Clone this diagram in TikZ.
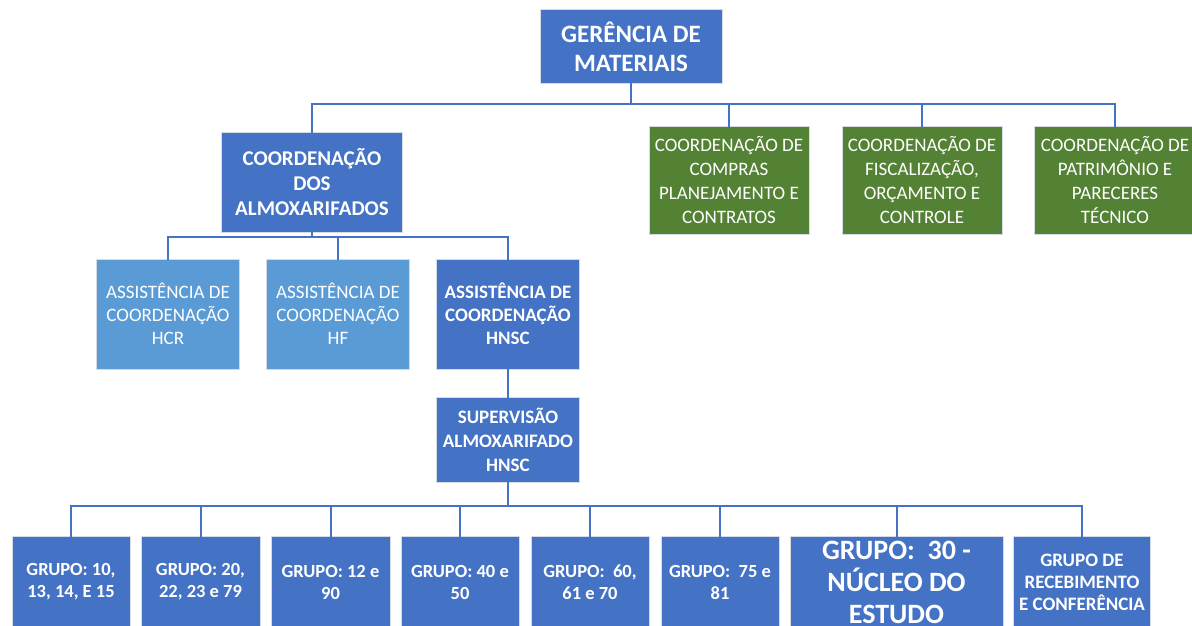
\documentclass[tikz,border=0pt]{standalone}
\usepackage{fontspec}
\setmainfont{Carlito}
\usepackage{xcolor}
\usetikzlibrary{positioning}
\definecolor{orgblue}{HTML}{4472C4}
\definecolor{orglight}{HTML}{5B9BD5}
\definecolor{orggreen}{HTML}{548235}
\definecolor{orgedge}{HTML}{D6DCE5}

\begin{document}
\begin{tikzpicture}[x=1pt, y=-1pt,
  every node/.style={inner sep=0pt, align=center, text=white},
  unitbox/.style={rectangle, draw=orgedge, line width=1pt},
  darkbox/.style={unitbox, fill=orgblue},
  lightbox/.style={unitbox, fill=orglight, minimum width=143pt, minimum height=110pt,
    font=\fontsize{19}{23}\selectfont},
  greenbox/.style={unitbox, fill=orggreen, minimum width=160pt, minimum height=108pt,
    font=\fontsize{19}{24}\selectfont},
  groupbox/.style={darkbox, minimum width=118pt, minimum height=92pt,
    font=\fontsize{18.5}{22}\selectfont\bfseries},
  link/.style={draw=orgblue, line width=2pt, line cap=rect}]
\useasboundingbox (0,0) rectangle (1192,626);
\clip (0,0) rectangle (1192,626);
\node[darkbox, minimum width=182pt, minimum height=74pt,
      font=\fontsize{25}{29}\selectfont\bfseries] (ger) at (631,47)
  {GERÊNCIA DE\\MATERIAIS};
\node[darkbox, minimum width=181pt, minimum height=100pt,
      font=\fontsize{21}{25}\selectfont\bfseries] (almox) at (312,182)
  {COORDENAÇÃO\\DOS\\ALMOXARIFADOS};
\node[greenbox] (compras) at (729,180)
  {COORDENAÇÃO DE\\COMPRAS\\PLANEJAMENTO E\\CONTRATOS};
\node[greenbox] (fisc) at (922,180)
  {COORDENAÇÃO DE\\FISCALIZAÇÃO,\\ORÇAMENTO E\\CONTROLE};
\node[greenbox, minimum width=162pt] (patr) at (1115,180)
  {COORDENAÇÃO DE\\PATRIMÔNIO E\\PARECERES\\TÉCNICO};
\node[lightbox] (hcr) at (168,314) {ASSISTÊNCIA DE\\COORDENAÇÃO\\HCR};
\node[lightbox] (hf) at (338,314) {ASSISTÊNCIA DE\\COORDENAÇÃO\\HF};
\node[darkbox, minimum width=143pt, minimum height=110pt,
      font=\fontsize{19}{23}\selectfont\bfseries] (hnsc) at (508,314)
  {ASSISTÊNCIA DE\\COORDENAÇÃO\\HNSC};
\node[darkbox, minimum width=143pt, minimum height=85pt,
      font=\fontsize{19}{24}\selectfont\bfseries] (sup) at (508,439.5)
  {SUPERVISÃO\\ALMOXARIFADO\\HNSC};
\node[groupbox] (g1) at (71,582) {GRUPO: 10,\\13, 14, E 15};
\node[groupbox, minimum width=119pt] (g2) at (200.5,582) {GRUPO: 20,\\22, 23 e 79};
\node[groupbox, minimum width=119pt] (g3) at (330.5,582) {GRUPO: 12 e\\90};
\node[groupbox] (g4) at (460,582) {GRUPO: 40 e\\50};
\node[groupbox] (g5) at (590,582) {GRUPO:\ \ 60,\\61 e 70};
\node[groupbox] (g6) at (720,582) {GRUPO:\ \ 75 e\\81};
\node[groupbox, minimum width=213pt, font=\fontsize{28}{32}\selectfont\bfseries]
  (g7) at (896.5,582) {GRUPO:\ \ 30 -\\NÚCLEO DO\\ESTUDO};
\node[groupbox, minimum width=137pt, font=\fontsize{19}{22}\selectfont\bfseries]
  (g8) at (1082,582) {GRUPO DE\\RECEBIMENTO\\E CONFERÊNCIA};
\coordinate (busA) at (0,104);
\coordinate (busB) at (0,237);
\coordinate (busC) at (0,506);
\draw[link] (ger.south) -- (ger.south |- busA);
\draw[link] (almox.north |- busA) -- (patr.north |- busA);
\foreach \dst in {almox, compras, fisc, patr} {
  \draw[link] (\dst.north |- busA) -- (\dst.north);}
\draw[link] (almox.south) -- (almox.south |- busB);
\draw[link] (hcr.north |- busB) -- (hnsc.north |- busB);
\foreach \dst in {hcr, hf, hnsc} {
  \draw[link] (\dst.north |- busB) -- (\dst.north);}
\draw[link] (hnsc) -- (sup);
\draw[link] (sup.south) -- (sup.south |- busC);
\draw[link] (g1.north |- busC) -- (g8.north |- busC);
\foreach \dst in {g1, g2, g3, g4, g5, g6, g7, g8} {
  \draw[link] (\dst.north |- busC) -- (\dst.north);}
\end{tikzpicture}
\end{document}
